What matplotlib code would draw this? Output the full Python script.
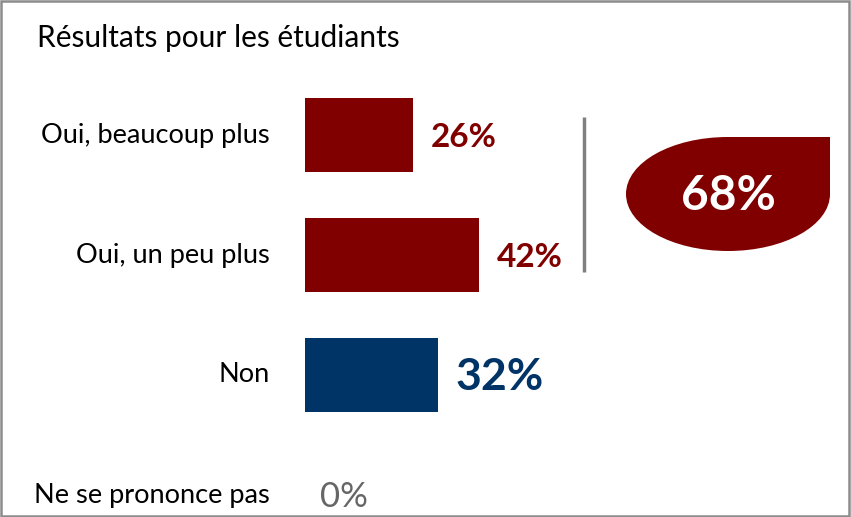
import matplotlib
matplotlib.use('Agg')
import matplotlib.pyplot as plt
from matplotlib.path import Path
from matplotlib.patches import PathPatch, Rectangle

plt.rcParams['font.family'] = ['Lato', 'DejaVu Sans']

# Data
categories = ['Oui, beaucoup plus', 'Oui, un peu plus', 'Non', 'Ne se prononce pas']
values = [26, 42, 32, 0]
title = 'Résultats pour les étudiants'

RED = '#800000'
NAVY = '#003366'
GREY = '#666666'
bar_colors = [RED, RED, NAVY, GREY]
label_colors = [RED, RED, NAVY, GREY]
label_sizes = [24, 24, 32, 25]
label_weights = ['bold', 'bold', 'bold', 'normal']

W, H = 851, 517
PX_PER_PCT = 4.15
X0 = 305  # pixel where bars start

fig = plt.figure(figsize=(W / 100, H / 100), dpi=100)
fig.patch.set_facecolor('white')

# bar axes: x in percent, y in category index
ax = fig.add_axes([X0 / W, 0, 1 - X0 / W, 1])
ax.set_xlim(0, (W - X0) / PX_PER_PCT)
ax.set_ylim((H - 135) / 120, -135 / 120)
ax.axis('off')

pos = list(range(len(categories)))
ax.barh(pos, values, height=0.62, color=bar_colors)

for i, (cat, v) in enumerate(zip(categories, values)):
    ax.text(-35 / PX_PER_PCT, i, cat, ha='right', va='center',
            fontsize=19.6, color='black', clip_on=False)
    off = (18 if v > 0 else 15) / PX_PER_PCT
    ax.text(v + off, i + 0.02, f'{v}%', ha='left', va='center',
            fontsize=label_sizes[i], fontweight=label_weights[i],
            color=label_colors[i])

# bracket line next to the "Oui" answers
ax.plot([(584 - X0) / PX_PER_PCT] * 2, [-0.15, 1.14], color='#808080', lw=2.5,
        solid_capstyle='butt')

# overlay in pixel coords for title, border and the total badge
ov = fig.add_axes([0, 0, 1, 1])
ov.set_xlim(0, W)
ov.set_ylim(H, 0)
ov.axis('off')
ov.patch.set_alpha(0)

ov.text(37, 38, title, ha='left', va='center', fontsize=21.5, color='black')
ov.add_patch(Rectangle((1, 1), W - 3, H - 2.5, fill=False, ec='#8c8c8c', lw=1.8))

# leaf shaped badge: ellipse with a square top-right corner
cx, cy, rx, ry = 728, 194, 102, 57
k = 0.5523
verts = [
    (cx + rx, cy - ry),
    (cx + rx, cy),
    (cx + rx, cy + k * ry), (cx + k * rx, cy + ry), (cx, cy + ry),
    (cx - k * rx, cy + ry), (cx - rx, cy + k * ry), (cx - rx, cy),
    (cx - rx, cy - k * ry), (cx - k * rx, cy - ry), (cx, cy - ry),
    (cx + rx, cy - ry),
]
codes = [Path.MOVETO, Path.LINETO] + [Path.CURVE4] * 9 + [Path.CLOSEPOLY]
ov.add_patch(PathPatch(Path(verts, codes), fc=RED, ec='none'))
total_oui = values[0] + values[1]
ov.text(cx, cy + 2, f'{total_oui}%', ha='center', va='center', fontsize=34.5,
        fontweight='bold', color='white')

fig.savefig('out.png', dpi=100)
